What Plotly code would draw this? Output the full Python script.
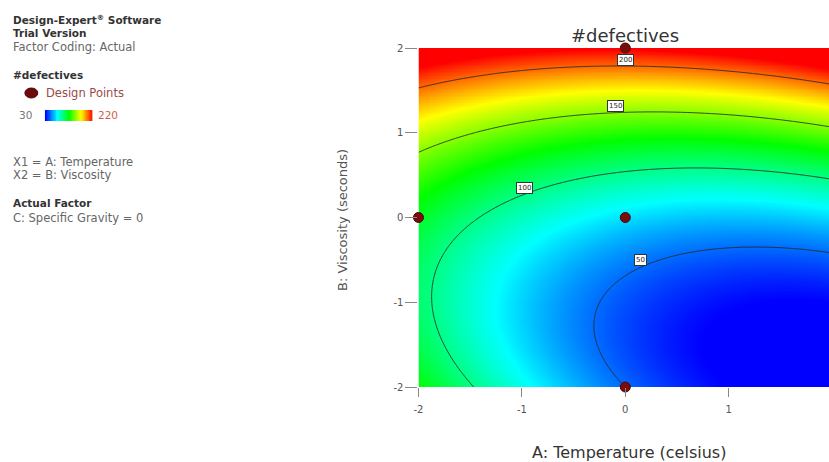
import numpy as np
import plotly.graph_objects as go

# Quadratic response-surface coefficients (estimated from the contour picture)
coef_intercept = 72.0
coef_A = -11.8
coef_B = 43.0
coef_A2 = 5.66
coef_B2 = 16.0
coef_AB = 7.0

# Design points (coded units)
design_A = [0, -2, 0, 2, 0]
design_B = [2, 0, 0, 0, -2]

# Contour levels and their label positions
contour_levels = [50, 100, 150, 200]
label_A = [0.15, -0.97, -0.09, 0.0]
label_B = [-0.5, 0.35, 1.32, 1.86]

legend_min = 30
legend_max = 220
tick_vals = [-2, -1, 0, 1, 2]
tick_text = ["-2", "-1", "0", "1", "2"]

W, H = 829, 462
ML, MR, MT, MB = 0, 0, 48, 75
PH = H - MT - MB
plot_left = 416

def px(x):
    return x / W

def py(y):
    return (H - MB - y) / PH

grid = np.linspace(-2, 2, 241)
XX, YY = np.meshgrid(grid, grid)
Z = (coef_intercept + coef_A * XX + coef_B * YY + coef_A2 * XX ** 2
     + coef_B2 * YY ** 2 + coef_AB * XX * YY)

cscale = [[0.0, "rgb(0,0,255)"], [0.25, "rgb(0,255,255)"], [0.5, "rgb(0,255,0)"],
          [0.75, "rgb(255,255,0)"], [1.0, "rgb(255,0,0)"]]

FONT = "DejaVu Sans"

fig = go.Figure()
fig.add_trace(go.Heatmap(x=grid, y=grid, z=Z, colorscale=cscale, zmin=legend_min,
                         zmax=legend_max, zsmooth="best", showscale=False, hoverinfo="skip"))
fig.add_trace(go.Contour(x=grid, y=grid, z=Z,
                         contours=dict(coloring="none", start=contour_levels[0],
                                       end=contour_levels[-1], size=50, showlabels=False),
                         line=dict(color="rgba(40,40,40,0.85)", width=1),
                         showscale=False, hoverinfo="skip"))
fig.add_trace(go.Scatter(x=design_A, y=design_B, mode="markers", cliponaxis=False,
                         marker=dict(size=10, color="#7a0c0c",
                                     line=dict(color="#4a0505", width=1)),
                         showlegend=False, hoverinfo="skip"))

# legend gradient
legend_vals = np.linspace(legend_min, legend_max, 60)
fig.add_trace(go.Heatmap(x=legend_vals, y=[0], z=[legend_vals], colorscale=cscale,
                         zmin=legend_min, zmax=legend_max, showscale=False,
                         zsmooth="best", xaxis="x2", yaxis="y2", hoverinfo="skip"))

annotations = []
for lv, la, lb in zip(contour_levels, label_A, label_B):
    annotations.append(dict(x=la, y=lb, xref="x", yref="y", text=str(lv), showarrow=False,
                            font=dict(size=7, color="#222", family=FONT),
                            bgcolor="white", bordercolor="#333", borderwidth=1, borderpad=1))

def txt(x, y, s, size=11.5, bold=False, color="#444"):
    t = f"<b>{s}</b>" if bold else s
    annotations.append(dict(x=px(x), y=py(y), xref="paper", yref="paper", text=t,
                            showarrow=False, xanchor="left", yanchor="middle",
                            font=dict(size=size, color=color, family=FONT)))

txt(6, 19, "Design-Expert<sup>®</sup> Software", size=10.5, bold=True, color="#333")
txt(6, 33, "Trial Version", size=10.5, bold=True, color="#333")
txt(6, 47, "Factor Coding: Actual", color="#666")
txt(6, 75, "#defectives", size=10.5, bold=True, color="#333")
txt(39, 93, "Design Points", color="#9a4a4a")
txt(12, 115, str(legend_min), size=10.5, color="#777")
txt(92, 115, str(legend_max), size=10.5, color="#d0604a")
txt(6, 162, "X1 = A: Temperature", color="#666")
txt(6, 175, "X2 = B: Viscosity", color="#666")
txt(6, 203, "Actual Factor", size=10.5, bold=True, color="#333")
txt(6, 218, "C: Specific Gravity = 0", color="#666")

annotations.append(dict(x=px(624), y=py(36), xref="paper", yref="paper", text="#defectives",
                        showarrow=False, xanchor="center", yanchor="middle",
                        font=dict(size=18, color="#333", family=FONT)))
annotations.append(dict(x=px(628), y=py(452), xref="paper", yref="paper",
                        text="A: Temperature (celsius)", showarrow=False,
                        xanchor="center", yanchor="middle",
                        font=dict(size=16, color="#333", family=FONT)))
annotations.append(dict(x=px(339), y=py(220), xref="paper", yref="paper",
                        text="B: Viscosity (seconds)", showarrow=False, textangle=-90,
                        xanchor="center", yanchor="middle",
                        font=dict(size=13, color="#555", family=FONT)))

shapes = [dict(type="circle", xref="paper", yref="paper", x0=px(20), x1=px(33),
               y0=py(98), y1=py(88), fillcolor="#6e0a0a", line=dict(color="#4a0505", width=1))]

fig.update_layout(
    width=W, height=H, margin=dict(l=ML, r=MR, t=MT, b=MB),
    paper_bgcolor="white", plot_bgcolor="white",
    annotations=annotations, shapes=shapes, showlegend=False,
    xaxis=dict(domain=[plot_left / W, 1], range=[-2, 1.97], tickvals=tick_vals,
               ticktext=tick_text, ticks="outside", ticklen=9, tickcolor="#888",
               ticklabelstandoff=4,
               tickfont=dict(size=10, color="#555", family=FONT),
               showgrid=False, zeroline=False, showline=False),
    yaxis=dict(domain=[0, 1], range=[-2, 2], tickvals=tick_vals, ticktext=tick_text,
               ticks="outside", ticklen=12, tickcolor="#888",
               tickfont=dict(size=10, color="#555", family=FONT),
               showgrid=False, zeroline=False, showline=False),
    xaxis2=dict(domain=[40 / W, 88 / W], anchor="y2", visible=False,
                range=[legend_min, legend_max]),
    yaxis2=dict(domain=[py(121), py(110)], anchor="x2", visible=False, range=[-0.5, 0.5]),
)

fig.write_html("out.html", config={"displayModeBar": False},
               post_script="document.body.style.margin='0';document.body.style.overflow='hidden';")
